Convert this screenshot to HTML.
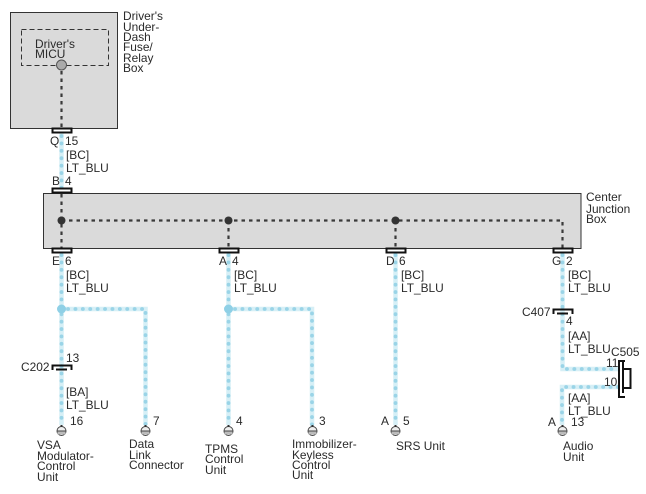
<!DOCTYPE html>
<html><head><meta charset="utf-8"><style>
html,body{margin:0;padding:0;background:#fff}
svg{display:block}
text{font-family:"Liberation Sans",sans-serif;font-size:11.9px;fill:#2a2a2a}
.w{fill:none;stroke:#d6eff6;stroke-width:4.500}
.d{fill:none;stroke:#9ad4e7;stroke-width:3.800;stroke-linecap:round;stroke-dasharray:0.1 7.300}
.k{fill:none;stroke:#3a3a3a;stroke-width:2.200;stroke-dasharray:3.500 4}
.c{fill:#fff;stroke:#111;stroke-width:2}
.b{fill:none;stroke:#111;stroke-width:2}
</style></head><body>
<svg width="646" height="494" viewBox="0 0 646 494" xmlns="http://www.w3.org/2000/svg">
<rect width="646" height="494" fill="#fff"/>
<rect x="10.500" y="12.500" width="107" height="116" fill="#dadada" stroke="#333"/>
<rect x="21.500" y="29.500" width="87" height="36" fill="none" stroke="#333" stroke-dasharray="5 3"/>
<rect x="43.500" y="193.500" width="537.500" height="55" fill="#dadada" stroke="#333"/>

<path class="w" d="M61.500 133V188M61.500 253V425M61.500 309H145.500V425M228.500 253V425M228.500 309H312V425M395.500 253V425M562.500 253V369H618M618 387H562V425"/>
<path class="d" d="M61.500 136V188M61.500 255V425M68 309H145.500V425M228.500 255V425M235 309H312V425M395.500 255V425M562.500 255V369H618M618 387H562V425"/>
<circle cx="61.500" cy="309" r="4.500" fill="#8fd0e6"/>
<circle cx="228.500" cy="309" r="4.500" fill="#8fd0e6"/>

<path class="k" d="M61.500 71V128M61.500 194V248M61.500 220.500H562.500V248M228.500 220.500V248M395.500 220.500V248"/>
<circle cx="61.500" cy="65" r="5" fill="#aaa" stroke="#555"/>
<circle cx="61.500" cy="220.500" r="4" fill="#333"/>
<circle cx="228.500" cy="220.500" r="4" fill="#333"/>
<circle cx="395.500" cy="220.500" r="4" fill="#333"/>

<rect class="c" x="52.500" y="128.500" width="19" height="4"/>
<rect class="c" x="52.500" y="188.500" width="19" height="4"/>
<rect class="c" x="52.500" y="248.500" width="19" height="4"/>
<rect class="c" x="219.500" y="248.500" width="19" height="4"/>
<rect class="c" x="386.500" y="248.500" width="19" height="4"/>
<rect class="c" x="553.500" y="248.500" width="19" height="4"/>

<path class="b" d="M52.500 370V365.500H71.500V370M56 369.500H67"/>
<path class="b" d="M553.500 314V309.500H572.500V314M557 313.500H568"/>
<path class="b" d="M618 361H625M618 397H625M619 361V397M623 361V393M623 369H630.500V388H623"/>

<g stroke="#444" stroke-width="1">
<g id="t0"><circle cx="61.500" cy="431" r="4.500" fill="#eee"/><path d="M57 431H66" /><path d="M57.500 433H65.500" stroke="#bbb" stroke-width="3"/><path d="M61.500 425V427" stroke="#333" stroke-width="2"/></g>
<circle cx="145.500" cy="431" r="4.500" fill="#eee"/><path d="M141 431H150"/><path d="M141.500 433H149.500" stroke="#bbb" stroke-width="3"/><path d="M145.500 425V427" stroke="#333" stroke-width="2"/>
<circle cx="228.500" cy="431" r="4.500" fill="#eee"/><path d="M224 431H233"/><path d="M224.500 433H232.500" stroke="#bbb" stroke-width="3"/><path d="M228.500 425V427" stroke="#333" stroke-width="2"/>
<circle cx="312.500" cy="431" r="4.500" fill="#eee"/><path d="M308 431H317"/><path d="M308.500 433H316.500" stroke="#bbb" stroke-width="3"/><path d="M312.500 425V427" stroke="#333" stroke-width="2"/>
<circle cx="395.500" cy="431" r="4.500" fill="#eee"/><path d="M391 431H400"/><path d="M391.500 433H399.500" stroke="#bbb" stroke-width="3"/><path d="M395.500 425V427" stroke="#333" stroke-width="2"/>
<circle cx="562.500" cy="431" r="4.500" fill="#eee"/><path d="M558 431H567"/><path d="M558.500 433H566.500" stroke="#bbb" stroke-width="3"/><path d="M562.500 425V427" stroke="#333" stroke-width="2"/>
</g>

<text x="123" y="20">Driver's</text><text x="123" y="31">Under-</text><text x="123" y="41">Dash</text><text x="123" y="51">Fuse/</text><text x="123" y="62">Relay</text><text x="123" y="72">Box</text>
<text x="35" y="48">Driver's</text><text x="35" y="58">MICU</text>
<text x="50" y="145">Q</text><text x="65" y="145">15</text>
<text x="66" y="159">[BC]</text><text x="66" y="172">LT_BLU</text>
<text x="52" y="185">B</text><text x="65" y="185">4</text>
<text x="586" y="201">Center</text><text x="586" y="213">Junction</text><text x="586" y="223">Box</text>

<text x="52" y="265">E</text><text x="65" y="265">6</text><text x="66" y="279">[BC]</text><text x="66" y="292">LT_BLU</text>
<text x="219" y="265">A</text><text x="232" y="265">4</text><text x="234" y="279">[BC]</text><text x="234" y="292">LT_BLU</text>
<text x="386" y="265">D</text><text x="399" y="265">6</text><text x="401" y="279">[BC]</text><text x="401" y="292">LT_BLU</text>
<text x="552" y="265">G</text><text x="566" y="265">2</text><text x="568" y="279">[BC]</text><text x="568" y="292">LT_BLU</text>

<text x="522" y="316">C407</text><text x="566" y="325">4</text>
<text x="568" y="340">[AA]</text><text x="568" y="353">LT_BLU</text><text x="611" y="356">C505</text>
<text x="606" y="367">11</text><text x="604" y="386">10</text>
<text x="568" y="402">[AA]</text><text x="568" y="415">LT_BLU</text>
<text x="548" y="426">A</text><text x="571" y="426">13</text>

<text x="21" y="371">C202</text><text x="66" y="362">13</text>
<text x="66" y="396">[BA]</text><text x="66" y="409">LT_BLU</text><text x="70" y="425">16</text>
<text x="153" y="425">7</text><text x="236" y="425">4</text><text x="319" y="425">3</text>
<text x="381" y="425">A</text><text x="403" y="425">5</text>

<text x="37" y="449">VSA</text><text x="37" y="460">Modulator-</text><text x="37" y="470">Control</text><text x="37" y="481">Unit</text>
<text x="129" y="448">Data</text><text x="129" y="459">Link</text><text x="129" y="469">Connector</text>
<text x="205" y="453">TPMS</text><text x="205" y="463">Control</text><text x="205" y="474">Unit</text>
<text x="292" y="448">Immobilizer-</text><text x="292" y="459">Keyless</text><text x="292" y="469">Control</text><text x="292" y="479">Unit</text>
<text x="396" y="450">SRS Unit</text>
<text x="563" y="450">Audio</text><text x="563" y="461">Unit</text>
</svg>
</body></html>
